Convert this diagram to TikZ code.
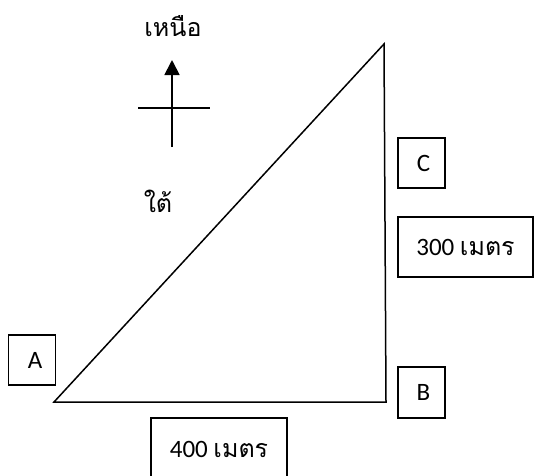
\documentclass[tikz,border=0pt]{standalone}
\usepackage{fontspec}
\setmainfont{Carlito}
\newfontfamily\thaifont[Script=Thai]{Loma}
\usetikzlibrary{arrows.meta,positioning}
\tikzset{
  labelbox/.style={draw,line width=1.3pt,inner sep=0pt,minimum width=47pt,minimum height=50pt},
  lenbox/.style={draw,line width=1.3pt,inner sep=0pt,minimum width=136pt,minimum height=60pt}
}
\begin{document}
\begin{tikzpicture}[x=1pt,y=-1pt,font=\fontsize{25}{30}\selectfont]
\useasboundingbox (0,0) rectangle (534,475);
% triangle
\coordinate (A) at (54,402);
\coordinate (B) at (386,402);
\coordinate (C) at (384,44);
\draw[line width=1.5pt,line join=miter] (A)--(B)--(C)--cycle;
% compass
\coordinate (s) at (172,147);
\coordinate (n) at (172,60);
\coordinate (w) at (138,108);
\coordinate (e) at (210,108);
\draw[line width=1.8pt,-{Triangle[length=15pt,width=15pt]}] (s)--(n);
\draw[line width=1.8pt] (w)--(e);
\node (north) at (173,26) {\thaifont เหนือ};
\node (south) at (158,201) {\thaifont ใต้};
% labels
\node[labelbox] (boxA) at (32,360) {\hspace{6pt}A};
\node[labelbox] (boxC) at (421.5,163) {\hspace{4pt}C};
\node[labelbox,minimum height=51pt] (boxB) at (421.5,392.5) {\hspace{4pt}B};
\node[lenbox,minimum width=135pt] (len300) at (465.5,247) {300 \thaifont เมตร\hspace{8pt}};
\node[lenbox,minimum height=62pt] (len400) at (219,449) {400 \thaifont เมตร};
\end{tikzpicture}
\end{document}
